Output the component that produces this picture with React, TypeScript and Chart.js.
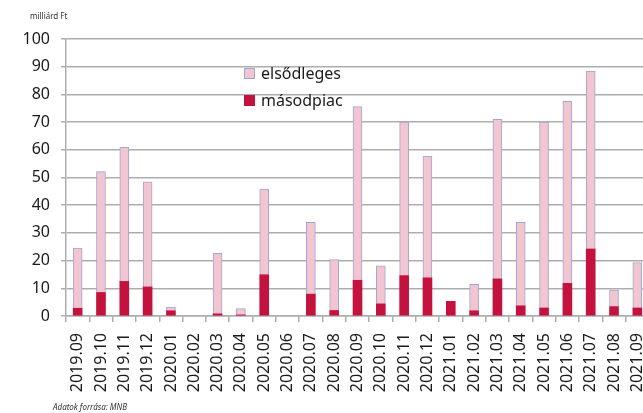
import React, { useEffect, useRef } from "react";
import { Chart, registerables } from "chart.js";

Chart.register(...registerables);

const categories = [
  "2019.09", "2019.10", "2019.11", "2019.12", "2020.01", "2020.02", "2020.03", "2020.04",
  "2020.05", "2020.06", "2020.07", "2020.08", "2020.09", "2020.10", "2020.11", "2020.12",
  "2021.01", "2021.02", "2021.03", "2021.04", "2021.05", "2021.06", "2021.07", "2021.08", "2021.09",
];

const masodpiac = [
  2.8, 8.5, 12.5, 10.5, 1.9, null, 0.8, 0.4,
  14.9, null, 7.9, 2.0, 12.9, 4.4, 14.6, 13.8,
  5.3, 1.9, 13.4, 3.7, 2.9, 11.8, 24.2, 3.4, 2.9,
];

const elsodleges = [
  21.7, 43.6, 48.4, 37.9, 1.3, null, 21.8, 2.3,
  30.9, null, 25.9, 18.4, 62.7, 13.7, 55.4, 43.9,
  null, 9.5, 57.6, 30.1, 67.1, 65.7, 64.2, 6.0, 16.4,
];

const yTicks = [0, 10, 20, 30, 40, 50, 60, 70, 80, 90, 100];

const RED = "#C4123E";
const PINK = "#F3C5D0";
const PINK_BORDER = "#9EA6D4";
const GRID = "#adadad";
const FONT = "'Noto Sans', sans-serif";

export default function App() {
  const ref = useRef<HTMLCanvasElement | null>(null);

  useEffect(() => {
    if (!ref.current) return;
    const chart = new Chart(ref.current, {
      type: "bar",
      data: {
        labels: categories,
        datasets: [
          {
            label: "másodpiac",
            data: masodpiac,
            backgroundColor: RED,
            borderWidth: 0,
            barThickness: 9,
          },
          {
            label: "elsődleges",
            data: elsodleges,
            backgroundColor: PINK,
            borderColor: PINK_BORDER,
            borderWidth: 1,
            barThickness: 9,
          },
        ],
      },
      options: {
        responsive: false,
        animation: false,
        devicePixelRatio: 1,
        layout: { padding: { top: 39, left: 0, right: 0, bottom: 0 } },
        plugins: {
          legend: { display: false },
          tooltip: { enabled: false },
        },
        scales: {
          x: {
            stacked: true,
            grid: {
              offset: true,
              drawOnChartArea: false,
              drawTicks: true,
              tickLength: 6,
              color: GRID,
              lineWidth: 1.5,
            },
            border: { display: true, color: GRID, width: 1.5 },
            ticks: {
              maxRotation: 90,
              minRotation: 90,
              autoSkip: false,
              padding: 11,
              color: "#1a1a1a",
              font: { family: FONT, size: 16 },
            },
            afterFit: (s: any) => {
              s.height = 97;
              s.paddingLeft = 0;
              s.paddingRight = 0;
            },
          },
          y: {
            stacked: true,
            min: 0,
            max: 100,
            afterBuildTicks: (s: any) => {
              s.ticks = yTicks.map((v) => ({ value: v }));
            },
            grid: {
              color: GRID,
              lineWidth: 1.5,
              tickLength: 5,
            },
            border: { display: true, color: GRID, width: 1.5 },
            ticks: {
              padding: 11,
              color: "#1a1a1a",
              font: { family: FONT, size: 16 },
            },
            afterFit: (s: any) => {
              s.width = 66;
            },
          },
        },
      },
    });
    return () => chart.destroy();
  }, []);

  const legendRow = (color: string, border: string, text: string, top: number) => (
    <div
      style={{
        position: "absolute",
        left: 244,
        top,
        display: "flex",
        alignItems: "center",
        fontFamily: FONT,
        fontSize: 16,
        color: "#1a1a1a",
        lineHeight: "20px",
      }}
    >
      <span
        style={{
          display: "inline-block",
          width: 9,
          height: 9,
          background: color,
          border: `1px solid ${border}`,
          marginRight: 6,
        }}
      />
      <span>{text}</span>
    </div>
  );

  return (
    <div
      style={{
        position: "fixed",
        left: 0,
        top: 0,
        width: 643,
        height: 413,
        overflow: "hidden",
        background: "#fff",
      }}
    >
      <canvas
        ref={ref}
        width={649}
        height={413}
        style={{ position: "absolute", left: 0, top: 0, width: 649, height: 413 }}
      />
      <div
        style={{
          position: "absolute",
          left: 30,
          top: 10,
          fontFamily: FONT,
          fontSize: 8,
          color: "#333",
        }}
      >
        milliárd Ft
      </div>
      {legendRow(PINK, PINK_BORDER, "elsődleges", 63)}
      {legendRow(RED, RED, "másodpiac", 90)}
      <div
        style={{
          position: "absolute",
          left: 53,
          top: 401,
          fontFamily: FONT,
          fontSize: 8,
          fontStyle: "italic",
          color: "#333",
        }}
      >
        Adatok forrása: MNB
      </div>
    </div>
  );
}
